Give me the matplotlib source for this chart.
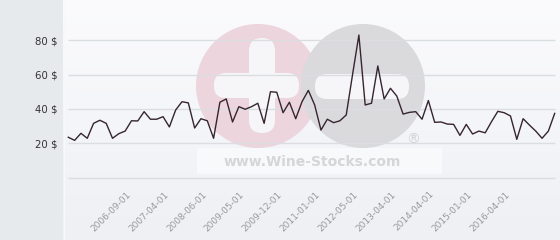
import numpy as np
import matplotlib
matplotlib.use("Agg")
import matplotlib.pyplot as plt
from matplotlib.patches import Circle, FancyBboxPatch

# prix moyen par vente
prices = [23.5, 21.7, 25.8, 22.9, 31.6, 33.4, 31.6, 22.9, 25.6, 27.1,
          33.1, 33.0, 38.4, 34.0, 34.0, 35.5, 29.5, 39.4, 44.2, 43.5,
          28.9, 34.3, 33.1, 22.9, 43.9, 45.8, 32.4, 41.3, 39.8, 41.3,
          43.3, 31.6, 50.0, 49.7, 37.8, 43.9, 34.3, 44.2, 50.8, 42.3,
          27.7, 34.0, 32.0, 33.1, 36.5, 60.0, 83.0, 42.3, 43.3, 65.0,
          45.8, 52.0, 47.5, 37.0, 38.0, 38.4, 34.0, 44.9, 32.2, 32.4,
          31.2, 31.0, 24.6, 31.0, 25.4, 27.1, 26.1, 32.6, 38.6, 37.8,
          35.9, 22.3, 34.3, 30.6, 27.1, 22.9, 27.1, 37.4]
tick_idx = [9, 15, 21, 27, 33, 39, 45, 51, 57, 63, 69]
tick_labels = ['2006-09-01', '2007-04-01', '2008-06-01', '2009-05-01',
               '2009-12-01', '2011-01-01', '2012-05-01', '2013-04-01',
               '2014-04-01', '2015-01-01', '2016-04-01']
y_ticks = [0, 20, 40, 60, 80]

W, H = 560, 240
fig = plt.figure(figsize=(W / 100, H / 100), dpi=100)
fig.patch.set_facecolor('#e6eaed')

# fond en degrade + filigrane
bg = fig.add_axes([0, 0, 1, 1], zorder=0)
bg.set_xlim(0, W)
bg.set_ylim(H, 0)
bg.axis('off')
grad = np.linspace(0, 1, 100).reshape(-1, 1)
bg.imshow(grad, extent=(63, W, H, 0), cmap=matplotlib.colors.LinearSegmentedColormap.from_list(
    'g', ['#fbfbfd', '#eef0f4']), aspect='auto', zorder=0)
bg.plot([63.5, 63.5], [0, H], color='#f7f8fa', lw=1, zorder=1)

bg.add_patch(FancyBboxPatch((197, 148), 245, 26, boxstyle='square,pad=0',
                            fc='white', ec='none', alpha=0.5, zorder=1))
bg.add_patch(Circle((258, 86), 62, fc='#ecd5dc', ec='none', zorder=2))
bg.add_patch(Circle((363, 86), 62, fc='#dadadc', ec='none', zorder=3))
bg.add_patch(FancyBboxPatch((249, 38), 26, 95, boxstyle='round,pad=0,rounding_size=13',
                            fc='#f6f6f8', ec='none', zorder=2.5))
bg.add_patch(FancyBboxPatch((214, 73), 85, 25, boxstyle='round,pad=0,rounding_size=12',
                            fc='#f6f6f8', ec='none', zorder=2.5))
bg.add_patch(FancyBboxPatch((315, 74), 94, 25, boxstyle='round,pad=0,rounding_size=12',
                            fc='#f6f6f8', ec='none', zorder=3.5))
bg.text(312, 162, 'www.Wine-Stocks.com', fontsize=10, fontweight='bold',
        color='#d6d6d8', ha='center', va='center', zorder=4)
bg.text(413, 140, '®', fontsize=10, color='#d4d4d6', ha='center', va='center', zorder=4)

# graphique principal
ax = fig.add_axes([63 / W, 0, (W - 63) / W, 1], zorder=1)
ax.patch.set_alpha(0)
x = np.arange(len(prices))
ax.set_xlim(-0.84, len(prices) - 1 + 0.84)
ax.set_ylim(-36.3, 103.4)
for s in ax.spines.values():
    s.set_visible(False)

ax.hlines(y_ticks, 0, len(prices) - 1, colors='#dcdde1', lw=1, zorder=1)
ax.plot(x, prices, color='#36252f', lw=1.0, zorder=3)

ax.set_xticks([])
ax.set_yticks(y_ticks[1:])
ax.set_yticklabels([f'{v} $' for v in y_ticks[1:]], fontsize=7.3, color='#333333')
ax.tick_params(axis='y', length=0, pad=4)

for i, lab in zip(tick_idx, tick_labels):
    ax.annotate(lab, (i, 0), xytext=(1, -12), textcoords='offset pixels',
                rotation=45, ha='right', va='top', rotation_mode='anchor',
                fontsize=6.5, color='#9a9a9a')

fig.savefig('out.png', dpi=100)
